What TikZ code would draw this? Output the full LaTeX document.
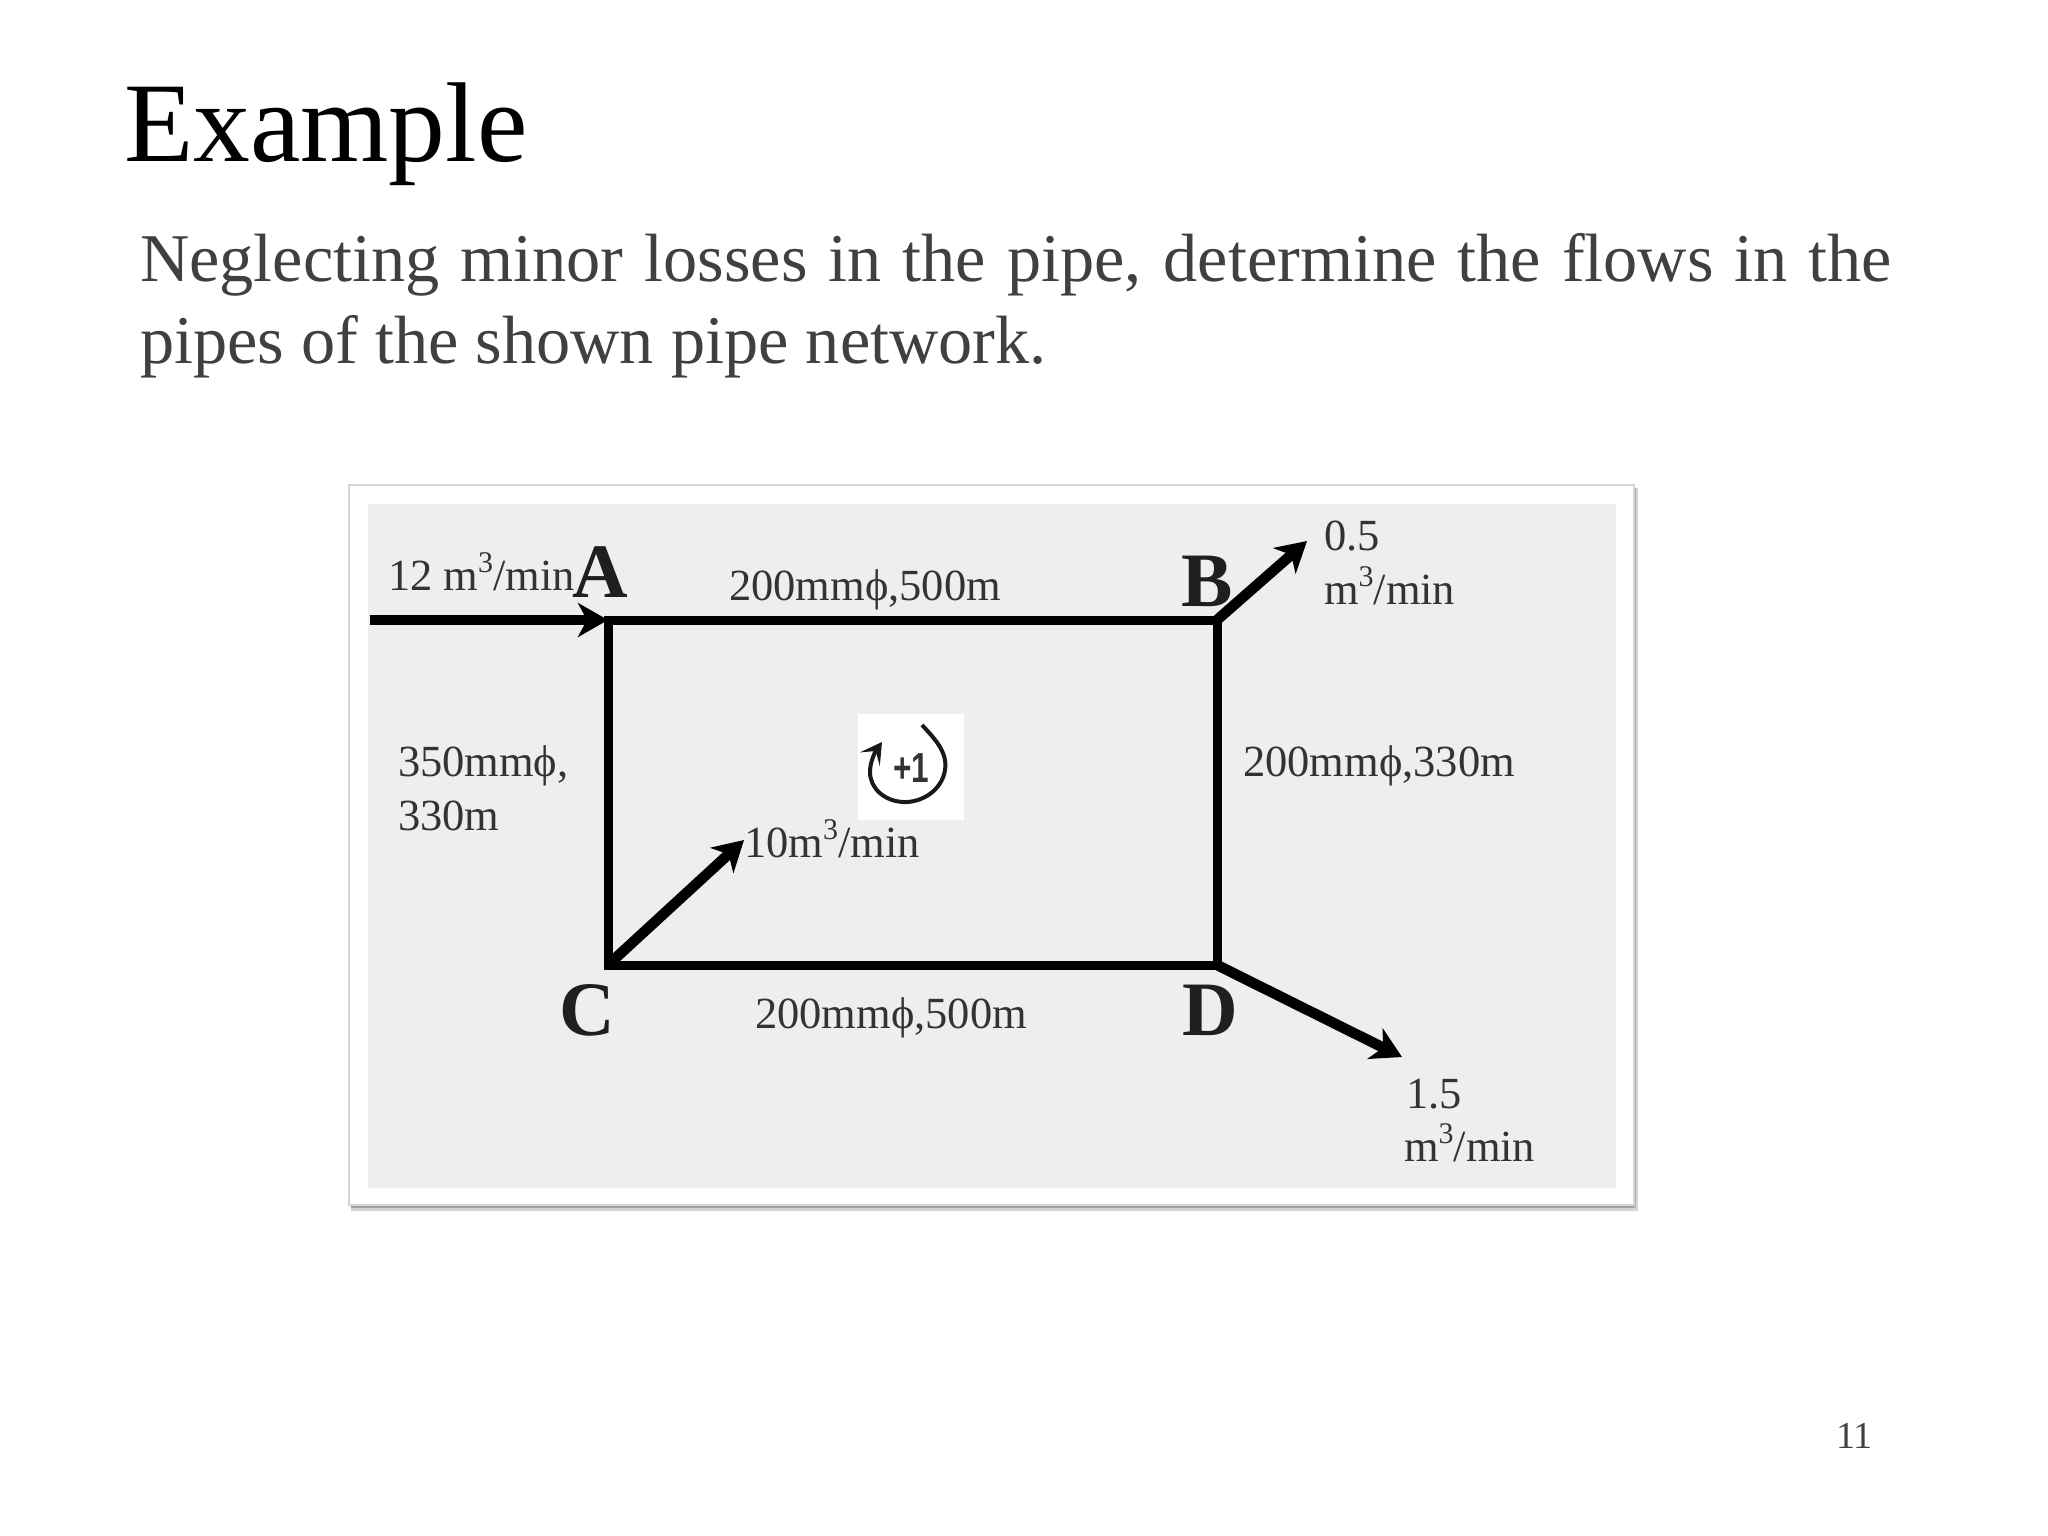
\documentclass[tikz,border=0pt]{standalone}
\usepackage{fontspec}
\usepackage{graphicx}
\setmainfont{Liberation Serif}
\newfontfamily\sansf{Liberation Sans}
\usetikzlibrary{arrows.meta}
\definecolor{panelgray}{HTML}{EEEEEE}
\definecolor{framegray}{HTML}{D4D4D4}
\definecolor{shadowgray}{HTML}{A0A0A0}
\definecolor{bodygray}{HTML}{404040}
\definecolor{labelgray}{HTML}{333333}
\newcommand{\cubed}{\raisebox{0.40em}{\fontsize{30}{30}\selectfont 3}}
\tikzset{
  txt/.style={anchor=base west,inner sep=0pt,outer sep=0pt,text=labelgray,font=\fontsize{44.5}{48}\selectfont},
  letter/.style={anchor=base west,inner sep=0pt,outer sep=0pt,text=black!88,font=\fontsize{77}{80}\selectfont\bfseries},
  pipe/.style={line width=9pt,black,line cap=butt,line join=miter},
  flow/.style={line width=10.5pt,black,-{Stealth[length=30pt,width=34pt,inset=9pt]}},
  slide/.style={anchor=base west,inner sep=0pt,outer sep=0pt},
}
\begin{document}
\begin{tikzpicture}[x=1pt,y=-1pt]
\useasboundingbox (0,0) rectangle (2048,1536);
\fill[white] (0,0) rectangle (2048,1536);
% title and text
\node[slide,font=\fontsize{113.5}{116}\selectfont] (title) at (124,161) {Example};
\node[slide,text=bodygray,font=\fontsize{68.3}{70}\selectfont] (line1) at (140,281) {\makebox[1752pt][s]{Neglecting minor losses in the pipe, determine the flows in the}};
\node[slide,text=bodygray,font=\fontsize{68.3}{70}\selectfont] (line2) at (140,363) {pipes of the shown pipe network.};
\node[slide,text=bodygray,font=\fontsize{38}{40}\selectfont] (pageno) at (1836,1448) {11};
% frame
\fill[shadowgray!45] (351,1203) rectangle (1638,1211);
\fill[shadowgray!45] (1634,488) rectangle (1638,1211);
\fill[shadowgray] (351,1203) rectangle (1636,1208);
\fill[shadowgray!80] (1633,488) rectangle (1636,1208);
\draw[framegray,line width=2.5pt,fill=white] (349,485) rectangle (1634,1205);
\fill[panelgray] (368,504) rectangle (1616,1188);
% loop sign box
\fill[white] (858,714) rectangle (964,820);
% junctions
\coordinate (A) at (608,620);
\coordinate (B) at (1217,620);
\coordinate (C) at (608,965);
\coordinate (D) at (1217,965);
\coordinate (inlet) at (370,620);
\coordinate (outB) at (1307,541);
\coordinate (outC) at (744,840);
\coordinate (outD) at (1402,1057);
% pipes
\draw[pipe] (A) -- (B) -- (D) -- (C) -- cycle;
\draw[flow] (inlet) -- (A);
\draw[flow] (B) -- (outB);
\draw[flow] (C) -- (outC);
\draw[flow] (D) -- (outD);
% labels
\node[txt] (ql) at (388,590) {12 m\cubed/min};
\node[letter] (la) at (572,597) {A};
\node[letter] (lb) at (1181,606) {B};
\node[letter] (lc) at (559,1035) {C};
\node[letter] (ld) at (1182,1035) {D};
\node[txt] (ab) at (729,600) {200mm\symbol{"03D5},500m};
\node[txt] (bq1) at (1324,550) {0.5};
\node[txt] (bq2) at (1324,604) {m\cubed/min};
\node[txt] (ac1) at (398,776) {350mm\symbol{"03D5},};
\node[txt] (ac2) at (398,830) {330m};
\node[txt] (bd) at (1243,776) {200mm\symbol{"03D5},330m};
\node[txt] (cq) at (744,857) {10m\cubed/min};
\node[txt] (cd) at (755,1028) {200mm\symbol{"03D5},500m};
\node[txt] (dq1) at (1406,1108) {1.5};
\node[txt] (dq2) at (1404,1161) {m\cubed/min};
% loop sign
\node[anchor=center,inner sep=0pt,text=black!80,font=\fontsize{42}{44}\selectfont\sansf\bfseries] (plus) at (911,768) {\scalebox{0.75}[1]{+1}};
\coordinate (loopS) at (922,725);
\coordinate (loopE) at (882,742);
\draw[line width=4pt,black!90,-{Stealth[length=21pt,width=24pt,inset=10pt]}]
  (loopS) .. controls (934,738) and (948,752) .. (945,770)
  .. controls (942,790) and (922,803) .. (903,802)
  .. controls (884,801) and (870,788) .. (870,772)
  .. controls (870,762) and (875,752) .. (loopE);
\end{tikzpicture}
\end{document}
